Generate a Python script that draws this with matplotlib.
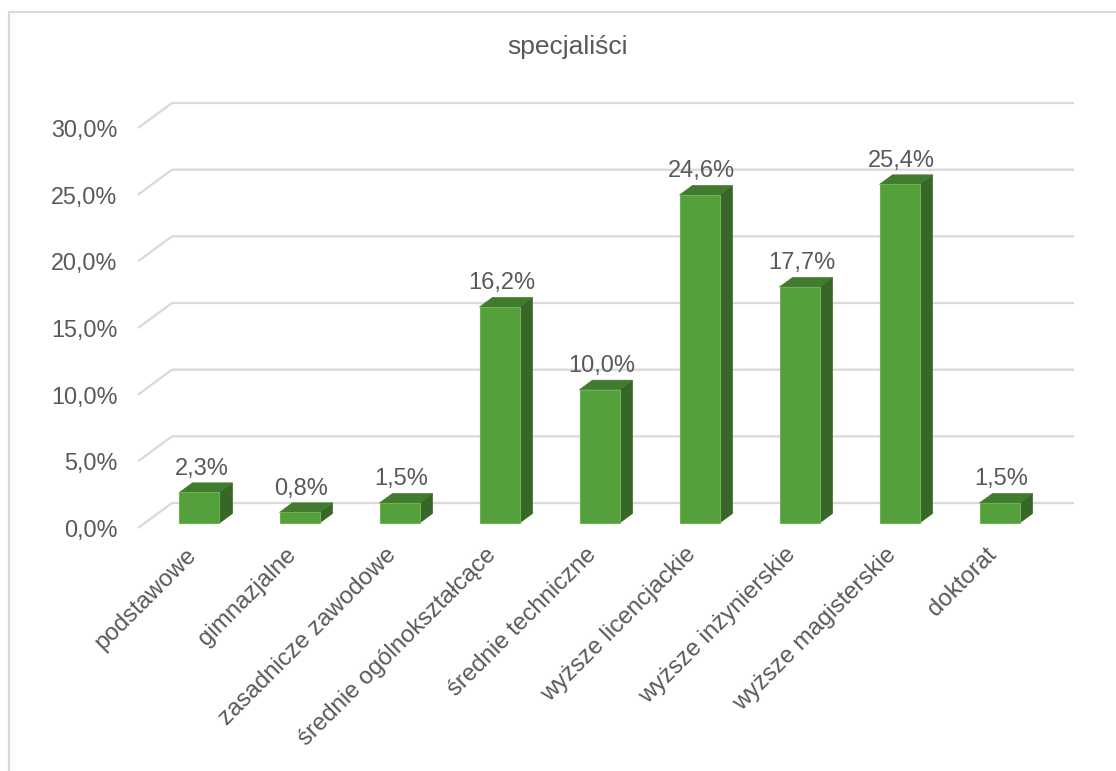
import matplotlib.pyplot as plt
from matplotlib.patches import Polygon, Rectangle

categories = ["podstawowe", "gimnazjalne", "zasadnicze zawodowe", "średnie ogólnokształcące",
              "średnie techniczne", "wyższe licencjackie", "wyższe inżynierskie",
              "wyższe magisterskie", "doktorat"]
values = [2.3, 0.8, 1.5, 16.2, 10.0, 24.6, 17.7, 25.4, 1.5]
y_ticks = [0, 5, 10, 15, 20, 25, 30]

# oblique "3D" projection: depth 1 shifts by DX categories and DY percent
DX, DY = 0.34, 1.875
BAR_W = 0.4
Z_FRONT, Z_BACK = 0.2, 0.58
X_LEFT, X_RIGHT = -0.547, 8.473

TEXT_COL = '#595959'
GRID_COL = '#d9d9d9'


def proj(x, y, z):
    return x + z * DX, y + z * DY


def pct(v):
    return f"{v:.1f}".replace('.', ',') + '%'


plt.rcParams['font.family'] = ['Liberation Sans', 'DejaVu Sans']
fig = plt.figure(figsize=(11.16, 7.71), dpi=100)
ax = fig.add_axes([0.1189, 0.3065, 0.8513, 0.5707])
ax.set_xlim(-0.6, 8.9)
ax.set_ylim(-0.5, 32.5)

# floor/back wall gridlines
for t in y_ticks:
    pts = [proj(X_LEFT, t, 0), proj(X_LEFT, t, 1), proj(X_RIGHT, t, 1)]
    ax.plot([p[0] for p in pts], [p[1] for p in pts], color=GRID_COL, lw=1.6,
            zorder=1, solid_capstyle='butt')

# bars
for i, v in enumerate(values):
    x0, x1 = i - BAR_W / 2, i + BAR_W / 2
    front = [proj(x0, 0, Z_FRONT), proj(x1, 0, Z_FRONT), proj(x1, v, Z_FRONT), proj(x0, v, Z_FRONT)]
    top = [proj(x0, v, Z_FRONT), proj(x1, v, Z_FRONT), proj(x1, v, Z_BACK), proj(x0, v, Z_BACK)]
    side = [proj(x1, 0, Z_FRONT), proj(x1, 0, Z_BACK), proj(x1, v, Z_BACK), proj(x1, v, Z_FRONT)]
    ax.add_patch(Polygon(side, closed=True, fc='#386626', ec='#386626', lw=0.5, zorder=3))
    ax.add_patch(Polygon(top, closed=True, fc='#417c2e', ec='#417c2e', lw=0.5, zorder=3))
    ax.add_patch(Polygon(front, closed=True, fc='#54a03a', ec='#6cb153', lw=0.8, zorder=4))
    lx, ly = proj(i, v, Z_BACK)
    ax.annotate(pct(v), (i + Z_FRONT * DX + 0.02, ly), xytext=(0, 5.8), textcoords='offset points',
                ha='center', va='baseline', fontsize=17, color=TEXT_COL, zorder=5)

ax.set_yticks(y_ticks, [pct(t) for t in y_ticks])
ax.set_xticks(range(len(categories)), categories)
ax.tick_params(axis='y', length=0, pad=11, labelsize=16.8, labelcolor=TEXT_COL)
ax.tick_params(axis='x', length=0, pad=12, labelsize=17.3, labelcolor=TEXT_COL)
for lab in ax.get_xticklabels():
    lab.set_rotation(45)
    lab.set_ha('right')
    lab.set_va('center')
    lab.set_rotation_mode('anchor')
for s in ax.spines.values():
    s.set_visible(False)

fig.text(568 / 1116, 1 - 47 / 771, "specjaliści", ha='center', va='center',
         fontsize=19, color=TEXT_COL)

# chart area frame (cropped on right and bottom)
fig.add_artist(Rectangle((9 / 1116, -0.1), 1.2, 1.1 - 12 / 771, transform=fig.transFigure,
                         fill=False, ec=GRID_COL, lw=1.6))

fig.savefig('out.png', dpi=100, facecolor='white')
